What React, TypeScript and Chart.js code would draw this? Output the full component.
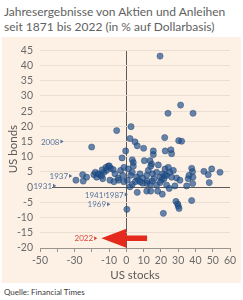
import React, { useEffect, useRef } from "react";
import { Chart, registerables } from "chart.js";

Chart.register(...registerables);

// US stocks (x) and US bonds (y) annual returns, %
const stocks = [
  19.5, 31.4, 24.1, 38.6, 2.7, -5.6, 22.2, 2.1, 30.3, 32.0, 5.0, 6.3, -20.1, 10.0, -0.4, 15.6, 22.5, 25.8, 26.2, 15.6,
  -2.5, 3.4, 10.4, 13.7, 18.5, 4.0, 14.6,
  -25.3, -29.2, -25.0, -23.0, -18.8, -17.2, -15.3, -13.7, -11.8, -10.5, -9.1, -11.5, -7.6, -6.6, -4.7, -9.5, -3.3, -2.1,
  -1.4, 1.1, 2.5, 4.0, 3.4, 6.0, 6.9, 7.9, 9.4, 11.8, 12.7, 14.1, 15.2, 16.0, 17.5, 19.5, 21.0, 20.4, 21.8, 22.4, 23.3,
  24.3, 25.2, 26.2, 27.2, 29.1, 31.0, 28.1, 34.9, 35.8, 36.3, 37.8, 38.3, 38.5, 38.4, 44.9, 47.4, 48.0, 49.4, 54.2,
  2.1, 3.4, 9.4, 13.9, 17.5, 19.5, 23.3, 24.8, 14.9, 12.0, 8.0, 5.2, 0.5, -1.5, -4.5, -7.2, -13.0, -14.0, -18.0,
  -16.3, -14.4, -9.9, 11.8, 22.3,
  6.3, 11.8, 14.1, 18.1, 20.8, 0.3, 21.4, 28.7, 29.7, 30.0, 30.5, 37.8,
];
const bonds = [
  43.1, 27.0, 24.3, 24.3, 19.9, 18.6, 16.3, 16.0, 15.3, 15.1, 14.9, 13.6, 13.2, 12.8, 11.9, 11.9, 11.9, 12.3, 11.0, 10.7,
  9.6, 9.0, 8.7, 8.7, 7.3, 8.1, 7.6,
  4.1, 2.3, 2.0, 3.3, 4.1, 3.3, 4.1, 2.8, 6.5, 6.9, 6.2, 5.5, 5.8, 4.4, 3.0, 2.3, 5.5, 3.9,
  6.5, 6.0, 3.9, 6.9, 4.9, 3.3, 2.3, 4.4, 3.0, 3.9, 5.5, 6.9, 4.4, 2.8, 4.9, 3.3, 4.4, 2.3, 2.8, 6.0, 3.9,
  6.5, 4.9, 3.3, 5.5, 3.0, 2.3, 0.4, 0.4, 2.8, 3.9, 6.2, 5.1, 3.3, 1.2, 5.2, 4.1, 1.5, 6.0, 4.9,
  0.1, 0.9, 1.3, 0.9, 0.7, 1.5, 0.7, -0.4, 2.0, 2.0, 1.8, 1.8, 2.3, 1.8, 2.3, 1.8, 4.9, 5.7, 4.9,
  4.4, 3.7, 7.0, 1.2, 3.9,
  -1.7, -1.3, -1.3, -1.3, -2.3, -7.3, -8.6, -4.7, -5.5, -6.2, -7.0, -4.4,
];

// Labelled years (drawn as a small marker + text instead of a dot)
const labelYears = ["2008", "1937", "1931", "1941", "1987", "1969", "2022"];
const labelStocks = [-37.0, -32.0, -41.3, -11.6, 0.2, -10.0, -17.5];
const labelBonds = [15.0, 3.7, 0.5, -2.4, -2.4, -5.6, -16.8];
const labelHighlight = [false, false, false, false, false, false, true];

// Big red arrow pointing at 2022 (tail, head base, tip in stocks %, at bonds %)
const arrowStocks = [12, 0, -14.5];
const arrowBonds = -16.8;

const xTicksHidden = [-40, -20];

const PEACH = "#fdf1e6";

const annotPlugin = {
  id: "annot",
  afterDatasetsDraw(chart: any) {
    const { ctx, scales } = chart;
    const xs = scales.x;
    const ys = scales.y;
    ctx.save();
    const yA = ys.getPixelForValue(arrowBonds);
    const xTail = xs.getPixelForValue(arrowStocks[0]);
    const xBase = xs.getPixelForValue(arrowStocks[1]);
    const xTip = xs.getPixelForValue(arrowStocks[2]);
    ctx.fillStyle = "#e42a1d";
    ctx.beginPath();
    ctx.moveTo(xTail, yA - 2.8);
    ctx.lineTo(xBase, yA - 2.8);
    ctx.lineTo(xBase, yA - 9.5);
    ctx.lineTo(xTip, yA);
    ctx.lineTo(xBase, yA + 9.5);
    ctx.lineTo(xBase, yA + 2.8);
    ctx.lineTo(xTail, yA + 2.8);
    ctx.closePath();
    ctx.fill();

    ctx.font = "8px Lato";
    ctx.textBaseline = "middle";
    ctx.textAlign = "right";
    labelYears.forEach((t, i) => {
      const px = xs.getPixelForValue(labelStocks[i]);
      const py = ys.getPixelForValue(labelBonds[i]);
      const col = labelHighlight[i] ? "#d8463a" : "#56739a";
      const w = ctx.measureText(t).width;
      ctx.fillStyle = PEACH;
      ctx.fillRect(px - 3 - w, py - 4, w, 8);
      ctx.fillStyle = col;
      ctx.fillText(t, px - 3, py + 0.5);
      ctx.beginPath();
      ctx.moveTo(px + 1.2, py);
      ctx.lineTo(px - 2, py - 2);
      ctx.lineTo(px - 2, py + 2);
      ctx.closePath();
      ctx.fill();
    });
    ctx.restore();
  },
};

export default function App() {
  const ref = useRef<HTMLCanvasElement | null>(null);
  useEffect(() => {
    document.body.style.margin = "0";
    document.body.style.background = "#ffffff";
    const points = stocks.map((s, i) => ({ x: s, y: bonds[i] }));
    const chart = new Chart(ref.current as HTMLCanvasElement, {
      type: "scatter",
      data: {
        datasets: [
          {
            data: points,
            backgroundColor: "rgba(30, 80, 140, 0.68)",
            borderColor: "rgba(30, 60, 105, 0.5)",
            borderWidth: 0.8,
            pointRadius: 3.1,
          },
        ],
      },
      options: {
        animation: false,
        responsive: false,
        layout: { padding: { top: 8, right: 11, left: 0, bottom: 0 } },
        plugins: { legend: { display: false }, tooltip: { enabled: false } },
        scales: {
          x: {
            type: "linear",
            min: -50,
            max: 60,
            afterFit: (s: any) => {
              s.height = 35;
            },
            border: { display: true, color: "#9a948e", width: 1 },
            grid: {
              drawOnChartArea: true,
              drawTicks: true,
              tickLength: 4,
              tickColor: "#9a948e",
              color: (c: any) => (c.tick && c.tick.value === 0 ? "#5b5b5b" : "rgba(0,0,0,0)"),
            },
            ticks: {
              stepSize: 10,
              autoSkip: false,
              maxRotation: 0,
              padding: 2,
              color: "#6a6a6a",
              font: { family: "Lato", size: 10.5 },
              callback: (v: any) => (xTicksHidden.includes(Number(v)) ? "" : String(v)),
            },
            title: {
              display: true,
              text: "US stocks",
              color: "#5a5a5a",
              font: { family: "Lato", size: 11.5 },
              padding: { top: 0, bottom: 1 },
            },
          },
          y: {
            type: "linear",
            min: -20,
            max: 45,
            afterFit: (s: any) => {
              s.width = 38;
            },
            border: { display: false },
            grid: {
              drawTicks: false,
              color: (c: any) => (c.tick && c.tick.value === 0 ? "#5b5b5b" : "#eaddd1"),
            },
            ticks: {
              stepSize: 5,
              autoSkip: false,
              padding: 7,
              color: "#6a6a6a",
              font: { family: "Lato", size: 10.5 },
            },
            title: {
              display: true,
              text: "US bonds",
              color: "#5a5a5a",
              font: { family: "Lato", size: 11.5 },
              padding: { top: 4, bottom: 0 },
            },
          },
        },
      },
      plugins: [annotPlugin],
    } as any);
    return () => chart.destroy();
  }, []);

  return (
    <div style={{ position: "relative", width: 243, height: 300, background: "#fff", fontFamily: "Lato" }}>
      <div
        style={{
          position: "absolute",
          left: 4,
          top: 4,
          fontSize: 12,
          lineHeight: "15px",
          color: "#616161",
          whiteSpace: "nowrap",
        }}
      >
        Jahresergebnisse von Aktien und Anleihen
        <br />
        seit 1871 bis 2022 (in % auf Dollarbasis)
      </div>
      <canvas
        ref={ref}
        width={239}
        height={246}
        style={{ position: "absolute", left: 2, top: 37, width: 239, height: 246, background: PEACH }}
      />
      <div
        style={{
          position: "absolute",
          left: 4,
          top: 287,
          fontSize: 8,
          lineHeight: "10px",
          color: "#3a3a3a",
          whiteSpace: "nowrap",
        }}
      >
        Quelle: Financial Times
      </div>
    </div>
  );
}
